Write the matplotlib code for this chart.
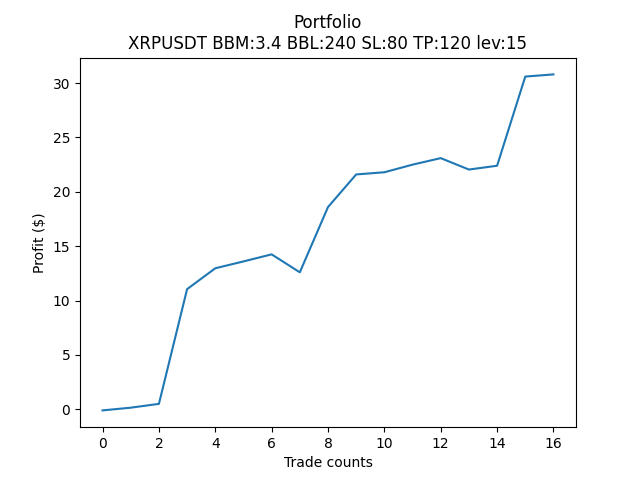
import matplotlib
matplotlib.use("Agg")
import matplotlib.pyplot as plt

trades = list(range(17))
profit = [-0.1, 0.15, 0.5, 11.05, 12.97, 13.6, 14.25, 12.6, 18.6, 21.6,
          21.8, 22.5, 23.1, 22.05, 22.4, 30.6, 30.8]

fig, ax = plt.subplots(figsize=(6.4, 4.8), dpi=100)
ax.plot(trades, profit)
ax.set_title("Portfolio\nXRPUSDT BBM:3.4 BBL:240 SL:80 TP:120 lev:15")
ax.set_xlabel("Trade counts")
ax.set_ylabel("Profit ($)")
fig.savefig("out.png")
